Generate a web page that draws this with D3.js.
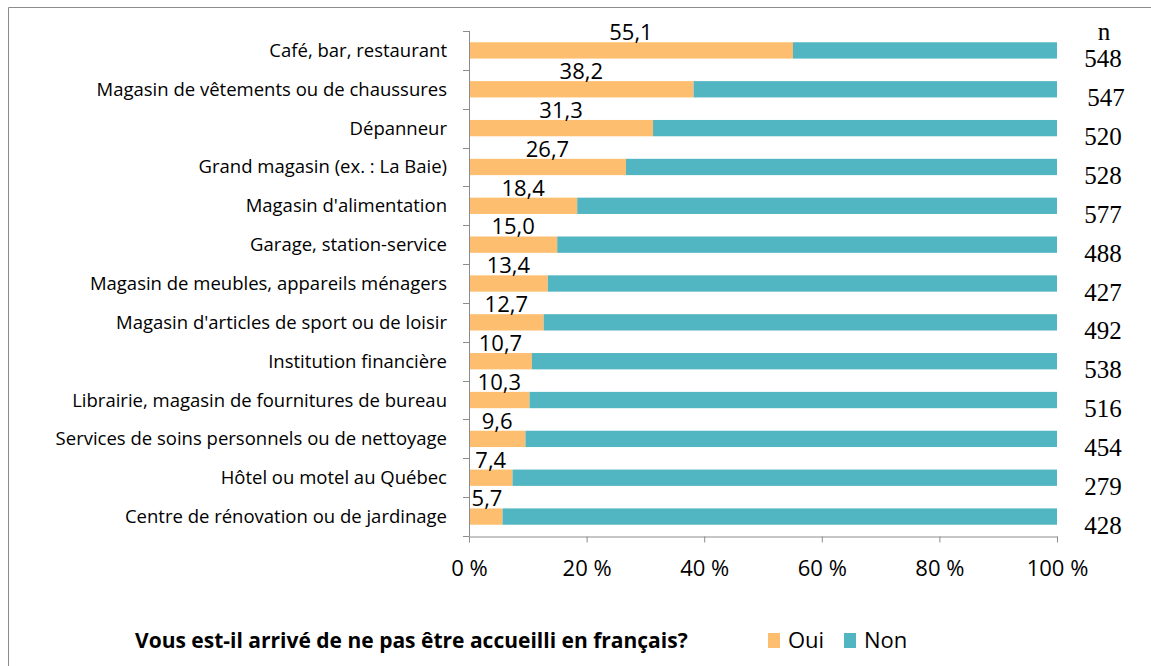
<html>
<head>
<style>
    body { margin: 0; background: #fff; }
    svg { display: block; }
</style>
<script src="https://d3js.org/d3.v7.min.js"></script>
</head>
<body>
<svg id="chart"></svg>
<script>

let categories = [
  "Café, bar, restaurant",
  "Magasin de vêtements ou de chaussures",
  "Dépanneur",
  "Grand magasin (ex. : La Baie)",
  "Magasin d'alimentation",
  "Garage, station-service",
  "Magasin de meubles, appareils ménagers",
  "Magasin d'articles de sport ou de loisir",
  "Institution financière",
  "Librairie, magasin de fournitures de bureau",
  "Services de soins personnels ou de nettoyage",
  "Hôtel ou motel au Québec",
  "Centre de rénovation ou de jardinage"
]
let oui = [55.1, 38.2, 31.3, 26.7, 18.4, 15.0, 13.4, 12.7, 10.7, 10.3, 9.6, 7.4, 5.7]
let non = oui.map(v => 100 - v)
let nValues = [548, 547, 520, 528, 577, 488, 427, 492, 538, 516, 454, 279, 428]
let xTicks = [0, 20, 40, 60, 80, 100]
let legendTitle = "Vous est-il arrivé de ne pas être accueilli en français?"
let seriesNames = ["Oui", "Non"]

const width = 1151, height = 666
const colors = {Oui: "#FDBF6F", Non: "#52B5C2"}
const sans = "'Open Sans', sans-serif"
const serif = "'Liberation Serif', serif"

let svg = d3.select("#chart").attr("width", width).attr("height", height)

// outer frame (only left and top show in the picture)
svg.append("path")
  .attr("d", "M8.5," + height + " V7.5 H" + width)
  .attr("fill", "none")
  .attr("stroke", "#8c8c8c")

let x = d3.scaleLinear().domain([0, 100]).range([469, 1057])
let y = d3.scaleBand().domain(categories).range([31, 536]).paddingInner(0.58).paddingOuter(0.29)

let rows = categories.map((c, i) => ({cat: c, oui: oui[i], non: non[i], n: nValues[i]}))

let g = svg.append("g")

g.selectAll(".oui").data(rows).enter().append("rect")
  .attr("x", x(0))
  .attr("y", d => y(d.cat))
  .attr("width", d => x(d.oui) - x(0))
  .attr("height", y.bandwidth())
  .attr("fill", colors.Oui)

g.selectAll(".non").data(rows).enter().append("rect")
  .attr("x", d => x(d.oui))
  .attr("y", d => y(d.cat))
  .attr("width", d => x(100) - x(d.oui))
  .attr("height", y.bandwidth())
  .attr("fill", colors.Non)

// value labels above the orange part
g.selectAll(".val").data(rows).enter().append("text")
  .attr("x", d => Math.max(x(d.oui / 2), 487))
  .attr("y", d => y(d.cat) - 2)
  .attr("text-anchor", "middle")
  .style("font-family", sans)
  .style("font-size", "22px")
  .attr("fill", "#000")
  .text(d => d.oui.toFixed(1).replace(".", ","))

// y axis: line + ticks at band boundaries
let step = (536 - 31) / categories.length
let yAxis = svg.append("g").attr("stroke", "#8c8c8c")
yAxis.append("line").attr("x1", 469.5).attr("x2", 469.5).attr("y1", 31).attr("y2", 536)
d3.range(categories.length + 1).forEach(i => {
  let yy = Math.round(31 + i * step) + 0.5
  yAxis.append("line").attr("x1", 463).attr("x2", 469.5).attr("y1", yy).attr("y2", yy)
})

svg.selectAll(".cat").data(rows).enter().append("text")
  .attr("x", 447)
  .attr("y", d => y(d.cat) + y.bandwidth() / 2)
  .attr("dy", "0.35em")
  .attr("text-anchor", "end")
  .style("font-family", sans)
  .style("font-size", "18.5px")
  .attr("fill", "#000")
  .text(d => d.cat)

// x axis
let xAxis = d3.axisBottom(x).tickValues(xTicks).tickFormat(d => d + " %").tickSize(6).tickSizeOuter(0)
let xg = svg.append("g").attr("transform", "translate(0,536.5)").call(xAxis)
xg.select(".domain").attr("stroke", "#8c8c8c")
xg.selectAll(".tick line").attr("stroke", "#8c8c8c")
xg.selectAll(".tick text")
  .attr("y", 24)
  .style("font-family", sans)
  .style("font-size", "22px")
  .attr("fill", "#000")

// n column
svg.append("text")
  .attr("x", 1104).attr("y", 40)
  .attr("text-anchor", "middle")
  .style("font-family", serif)
  .style("font-size", "25px")
  .text("n")
svg.selectAll(".nval").data(rows).enter().append("text")
  .attr("x", d => d.n === 547 ? 1106 : 1103)
  .attr("y", d => y(d.cat) + y.bandwidth() / 2 + 17)
  .attr("text-anchor", "middle")
  .style("font-family", serif)
  .style("font-size", "25px")
  .text(d => d.n)

// legend
svg.append("text")
  .attr("x", 135).attr("y", 648)
  .style("font-family", sans)
  .style("font-size", "21px")
  .style("font-weight", "bold")
  .text(legendTitle)

let legendX = d3.scaleOrdinal().domain(seriesNames).range([768, 844])
let lg = svg.selectAll(".leg").data(seriesNames).enter().append("g")
  .attr("transform", d => "translate(" + legendX(d) + ",633)")
lg.append("rect").attr("width", 12).attr("height", 15).attr("fill", d => colors[d])
lg.append("text")
  .attr("x", 20).attr("y", 15)
  .style("font-family", sans)
  .style("font-size", "22px")
  .text(d => d)

</script>
</body>
</html>
